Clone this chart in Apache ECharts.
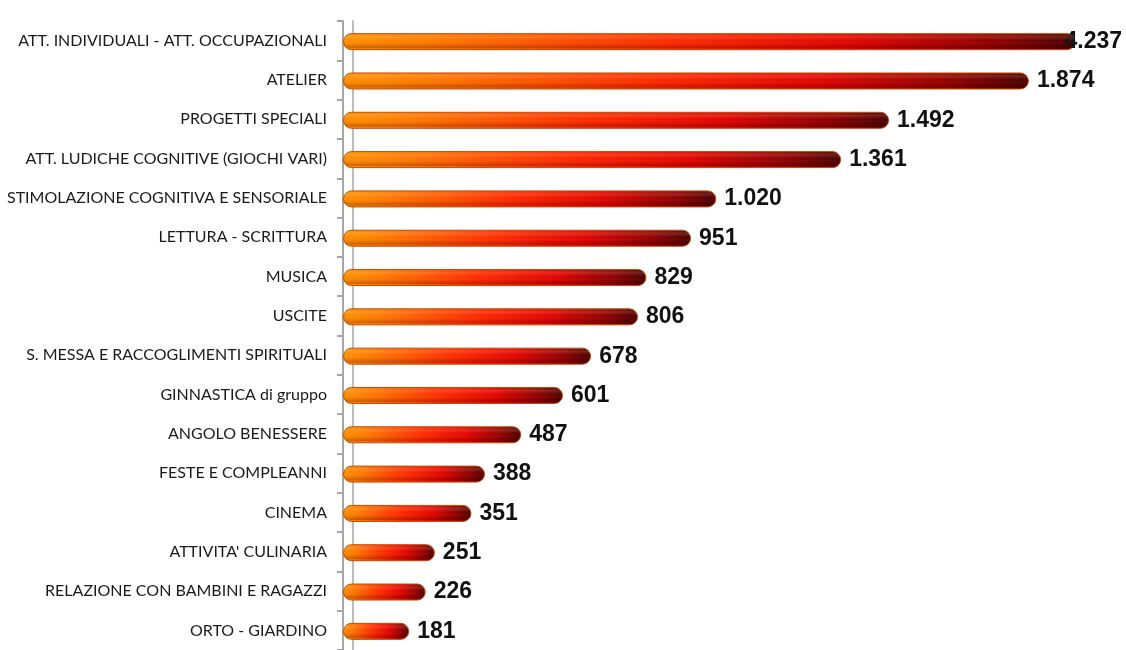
<!DOCTYPE html>
<html><head><meta charset="utf-8">
<script src="https://cdn.jsdelivr.net/npm/echarts@6/dist/echarts.min.js"></script>
<style>html,body{margin:0;padding:0;background:#fff}#c{width:1126px;height:650px}</style>
</head><body><div id="c"></div>
<script>
const categories = [
  "ATT. INDIVIDUALI - ATT. OCCUPAZIONALI",
  "ATELIER",
  "PROGETTI SPECIALI",
  "ATT. LUDICHE COGNITIVE (GIOCHI VARI)",
  "STIMOLAZIONE COGNITIVA E SENSORIALE",
  "LETTURA - SCRITTURA",
  "MUSICA",
  "USCITE",
  "S. MESSA E RACCOGLIMENTI SPIRITUALI",
  "GINNASTICA di gruppo",
  "ANGOLO BENESSERE",
  "FESTE E COMPLEANNI",
  "CINEMA",
  "ATTIVITA' CULINARIA",
  "RELAZIONE CON BAMBINI E RAGAZZI",
  "ORTO - GIARDINO"
];
const values = [4237, 1874, 1492, 1361, 1020, 951, 829, 806, 678, 601, 487, 388, 351, 251, 226, 181];
const axisMax = 2000;

function fmt(v){ return String(v).replace(/\B(?=(\d{3})+(?!\d))/g, "."); }

const barData = values.map(v => v > axisMax ? {value: v, label: {offset: [-19, 0]}} : v);

const chart = echarts.init(document.getElementById('c'), null, {renderer: 'canvas'});
chart.setOption({
  animation: false,
  backgroundColor: '#ffffff',
  grid: {left: 343, right: 51, top: 21, height: 631, containLabel: false},
  xAxis: {type: 'value', min: 0, max: axisMax, show: false},
  yAxis: [{
    type: 'category', data: categories, inverse: true,
    axisLine: {show: true, lineStyle: {color: '#a6a6a6', width: 2}},
    axisTick: {show: true, length: 6, lineStyle: {color: '#a6a6a6', width: 2}},
    axisLabel: {margin: 16, color: '#1a1a1a', fontFamily: 'Lato', fontSize: 16},
    splitLine: {show: false}
  }, {
    type: 'category', data: categories, inverse: true, position: 'left', offset: -10,
    axisLine: {show: true, lineStyle: {color: '#bdbdbd', width: 2}},
    axisTick: {show: false}, axisLabel: {show: false}
  }],
  series: [{
    type: 'bar', data: barData, barWidth: 17, clip: true, z: 2,
    itemStyle: {
      borderRadius: [8, 8, 8, 8],
      borderColor: '#c24a00', borderWidth: 1,
      color: new echarts.graphic.LinearGradient(0, 0, 1, 0, [
        {offset: 0, color: '#ff9000'},
        {offset: 0.12, color: '#ff7a00'},
        {offset: 0.45, color: '#ff2a00'},
        {offset: 0.7, color: '#e00400'},
        {offset: 0.9, color: '#8a0000'},
        {offset: 1, color: '#4a0000'}
      ])
    },
    label: {
      show: true, position: 'right', distance: 8,
      formatter: p => fmt(p.value),
      color: '#111', fontFamily: 'Liberation Sans', fontWeight: 'bold', fontSize: 23
    }
  }, {
    type: 'bar', data: values, barWidth: 15, barGap: '-100%', clip: true, z: 3, silent: true,
    itemStyle: {
      borderRadius: [7, 7, 7, 7],
      color: new echarts.graphic.LinearGradient(0, 0, 0, 1, [
        {offset: 0, color: 'rgba(255,255,255,0.0)'},
        {offset: 0.25, color: 'rgba(255,255,220,0.15)'},
        {offset: 0.5, color: 'rgba(255,255,255,0.0)'},
        {offset: 0.8, color: 'rgba(60,0,0,0.12)'},
        {offset: 1, color: 'rgba(60,0,0,0.3)'}
      ])
    },
    label: {show: false}
  }]
});
</script></body></html>
